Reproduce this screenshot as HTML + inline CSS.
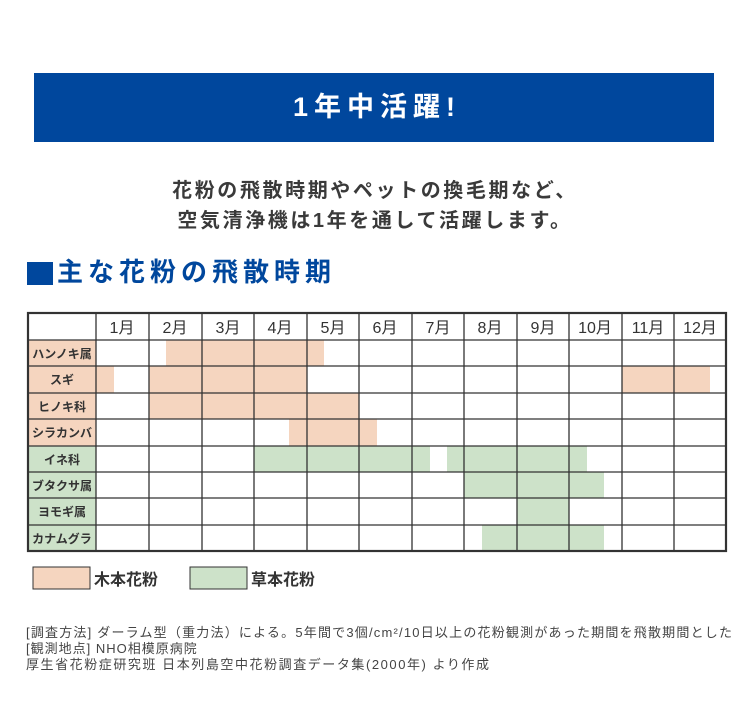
<!DOCTYPE html>
<html><head><meta charset="utf-8"><style>
body{margin:0;background:#fff;width:750px;height:703px;position:relative;overflow:hidden;font-family:"Liberation Sans","Noto Sans CJK JP",sans-serif;}
.a{position:absolute;white-space:nowrap}
</style></head><body>
<div class="a" style="left:34px;top:73px;width:680px;height:69px;background:#00479d;color:#fff;font-size:27px;font-weight:bold;text-align:center;line-height:69px;letter-spacing:6px;text-indent:6px">1年中活躍!</div>
<div class="a" style="left:0;width:750px;top:176px;text-align:center;color:#3a3a3a;font-size:20px;font-weight:bold;line-height:30px;letter-spacing:2.6px">花粉の飛散時期やペットの換毛期など、<br>空気清浄機は1年を通して活躍します。</div>
<div class="a" style="left:27px;top:262px;width:26px;height:23px;background:#00479d"></div>
<div class="a" style="left:57px;top:255px;color:#00479d;font-size:26px;font-weight:bold;line-height:34px;letter-spacing:5px">主な花粉の飛散時期</div>
<svg class="a" style="left:0;top:0" width="750" height="703" font-family="Liberation Sans,Noto Sans CJK JP,sans-serif">
<g fill="#f5d5bf">
<rect x="28" y="340" width="68" height="106"/>
<rect x="166" y="340" width="158" height="26"/>
<rect x="96" y="366" width="18" height="27"/>
<rect x="149" y="366" width="158" height="27"/>
<rect x="622" y="366" width="88" height="27"/>
<rect x="149" y="393" width="210" height="26"/>
<rect x="289" y="419" width="88" height="27"/>
</g>
<g fill="#cde2c9">
<rect x="28" y="446" width="68" height="105"/>
<rect x="254" y="446" width="176" height="26"/>
<rect x="447" y="446" width="140" height="26"/>
<rect x="464" y="472" width="140" height="26"/>
<rect x="517" y="498" width="52" height="27"/>
<rect x="482" y="525" width="122" height="26"/>
</g>
<g stroke="#333" stroke-width="1.3">
<line x1="28" y1="340" x2="726" y2="340"/><line x1="28" y1="366" x2="726" y2="366"/><line x1="28" y1="393" x2="726" y2="393"/><line x1="28" y1="419" x2="726" y2="419"/><line x1="28" y1="446" x2="726" y2="446"/><line x1="28" y1="472" x2="726" y2="472"/><line x1="28" y1="498" x2="726" y2="498"/><line x1="28" y1="525" x2="726" y2="525"/>
<line x1="96" y1="313" x2="96" y2="551"/><line x1="149" y1="313" x2="149" y2="551"/><line x1="202" y1="313" x2="202" y2="551"/><line x1="254" y1="313" x2="254" y2="551"/><line x1="307" y1="313" x2="307" y2="551"/><line x1="359" y1="313" x2="359" y2="551"/><line x1="412" y1="313" x2="412" y2="551"/><line x1="464" y1="313" x2="464" y2="551"/><line x1="517" y1="313" x2="517" y2="551"/><line x1="569" y1="313" x2="569" y2="551"/><line x1="622" y1="313" x2="622" y2="551"/><line x1="674" y1="313" x2="674" y2="551"/>
</g>
<rect x="28" y="313" width="698" height="238" fill="none" stroke="#333" stroke-width="2.2"/>
<g font-size="16" fill="#333" text-anchor="middle">
<text x="122" y="333">1月</text><text x="175" y="333">2月</text><text x="228" y="333">3月</text><text x="280" y="333">4月</text><text x="333" y="333">5月</text><text x="385" y="333">6月</text><text x="438" y="333">7月</text><text x="490" y="333">8月</text><text x="543" y="333">9月</text><text x="595" y="333">10月</text><text x="648" y="333">11月</text><text x="700" y="333">12月</text>
</g>
<g font-size="12" fill="#333" text-anchor="middle" font-weight="bold">
<text x="62" y="358">ハンノキ属</text><text x="62" y="384">スギ</text><text x="62" y="411">ヒノキ科</text><text x="62" y="437">シラカンバ</text><text x="62" y="464">イネ科</text><text x="62" y="490">ブタクサ属</text><text x="62" y="516">ヨモギ属</text><text x="62" y="543">カナムグラ</text>
</g>
<rect x="33" y="567" width="57" height="22" fill="#f5d5bf" stroke="#333"/>
<rect x="190" y="567" width="57" height="22" fill="#cde2c9" stroke="#333"/>
<text x="94" y="585" font-size="16" fill="#333" font-weight="bold">木本花粉</text>
<text x="251" y="585" font-size="16" fill="#333" font-weight="bold">草本花粉</text>
<g font-size="13" fill="#444" letter-spacing="1">
<text x="26" y="637" textLength="707" lengthAdjust="spacing">[調査方法] ダーラム型（重力法）による。5年間で3個/cm²/10日以上の花粉観測があった期間を飛散期間とした</text>
<text x="26" y="653">[観測地点] NHO相模原病院</text>
<text x="26" y="669" textLength="464" lengthAdjust="spacing">厚生省花粉症研究班 日本列島空中花粉調査データ集(2000年) より作成</text>
</g>
</svg>
</body></html>
